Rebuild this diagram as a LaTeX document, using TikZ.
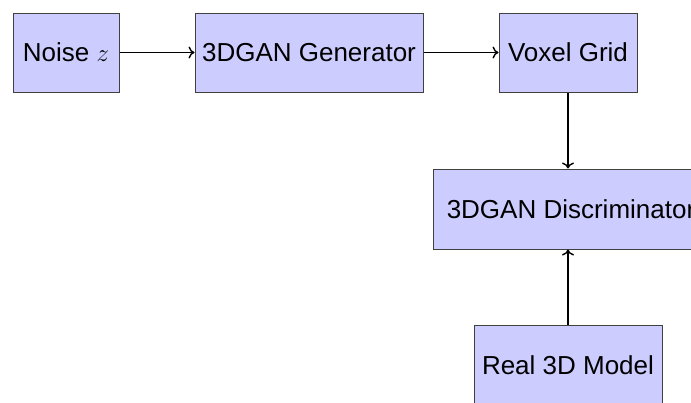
\documentclass[tikz,border=0pt]{standalone}
\usepackage{fontspec}
\setmainfont{Liberation Sans}
\usetikzlibrary{arrows.meta}
\begin{document}
\begin{tikzpicture}[x=1pt,y=1pt,
  box/.style={draw=black!75, line width=1pt, fill=blue!20, inner sep=0pt,
    font=\fontsize{26}{31}\selectfont, text=black},
  conn/.style={-{To[length=6pt,width=12pt]}, line width=1.4pt, black}]
\useasboundingbox (0,0) rectangle (691,-402);
\node[box, minimum width=106pt, minimum height=79pt] (noise) at (66,-52.5) {Noise $z$};
\node[box, minimum width=228pt, minimum height=79pt] (gen) at (309,-52.5) {3DGAN Generator};
\node[box, minimum width=138pt, minimum height=79pt] (vox) at (568,-52.5) {Voxel Grid};
\node[box, minimum width=270pt, minimum height=80pt] (disc) at (568,-209) {\hspace*{6pt}3DGAN Discriminator};
\node[box, minimum width=188pt, minimum height=80pt] (real) at (568,-365) {Real 3D Model};
\draw[conn] (noise) -- (gen);
\draw[conn] (gen) -- (vox);
\draw[conn] (vox) -- (disc);
\draw[conn] (real) -- (disc);
\end{tikzpicture}
\end{document}
